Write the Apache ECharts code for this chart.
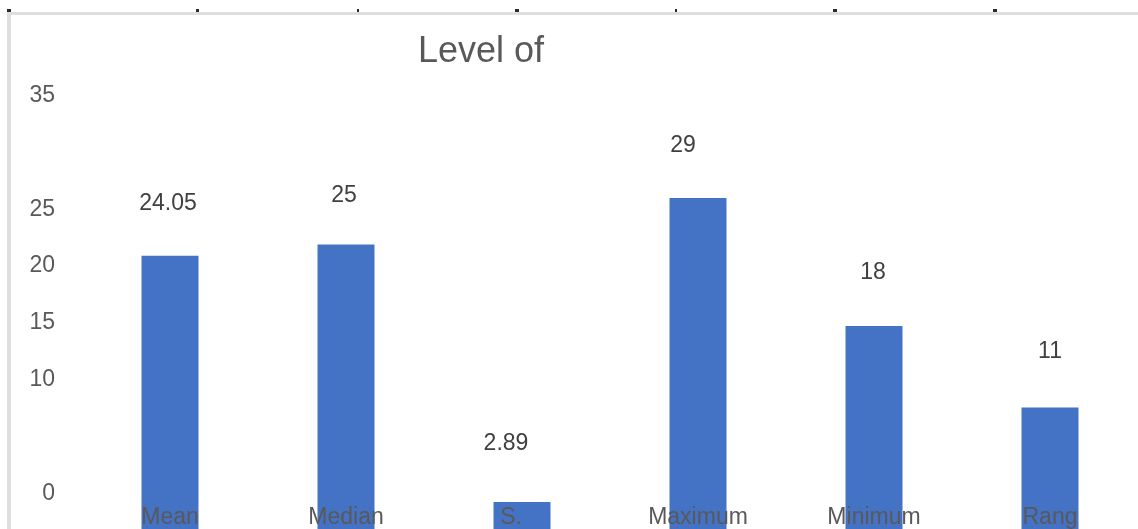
<!DOCTYPE html>
<html>
<head>
<meta charset="utf-8">
<title>Level of</title>
<script src="https://cdn.jsdelivr.net/npm/echarts@6/dist/echarts.min.js"></script>
<style>
  html, body { margin: 0; padding: 0; background: #ffffff; }
  #chart { width: 1138px; height: 529px; }
</style>
</head>
<body>
<div id="chart"></div>
<script>
// Summary statistics shown as bars
const categories = ['Mean', 'Median', 'S.', 'Maximum', 'Minimum', 'Rang'];
const values = [24.05, 25, 2.89, 29, 18, 11];
// Labels printed along the left scale
const yTickLabels = [0, 10, 15, 20, 25, 35];

const FONT = '"Liberation Sans", Arial, sans-serif';

// Small per-bar nudges for the value labels, in pixels [dx, dy]
const labelNudges = [[-2, 1], [-2, 5], [-16, -5], [-15, 1], [-1, 0], [0, -2]];

const chart = echarts.init(document.getElementById('chart'), null, { renderer: 'canvas' });

// Ruler marks along the top frame edge
const rulerMarks = [
  { x: 7, w: 4 }, { x: 196, w: 3 }, { x: 357, w: 2 }, { x: 515, w: 4 },
  { x: 675, w: 2 }, { x: 833, w: 4 }, { x: 993, w: 4 }
];

const graphics = [
  { type: 'rect', shape: { x: 7, y: 12, width: 1131, height: 3 }, style: { fill: '#dedede' }, silent: true, z: 0 },
  { type: 'rect', shape: { x: 7, y: 12, width: 4, height: 517 }, style: { fill: '#dedede' }, silent: true, z: 0 }
].concat(rulerMarks.map(m => ({
  type: 'rect', shape: { x: m.x, y: 9, width: m.w, height: 3 }, style: { fill: '#2a2a2a' }, silent: true, z: 1
})));

const barData = values.map((v, i) => ({
  value: v,
  label: { offset: labelNudges[i] }
}));

chart.setOption({
  animation: false,
  backgroundColor: '#ffffff',
  title: {
    text: 'Level of',
    left: 418,
    top: 34,
    padding: 0,
    textStyle: { fontFamily: FONT, fontSize: 36, fontWeight: 'normal', color: '#595959' }
  },
  graphic: graphics,
  // The bar baseline sits just below the bottom edge, so the value axis starts slightly above zero
  grid: { left: 82, right: -2, top: 92.5, bottom: 0, containLabel: false },
  xAxis: {
    type: 'category',
    data: categories,
    z: 10,
    axisLine: { show: false },
    axisTick: { show: false },
    axisLabel: {
      margin: -23,
      interval: 0,
      fontFamily: FONT,
      fontSize: 23,
      color: '#595959',
      formatter: v => (v === 'S.' ? '{s|' + v + '}' : v),
      rich: { s: { fontFamily: FONT, fontSize: 23, color: '#595959', padding: [0, 22, 0, 0] } }
    }
  },
  yAxis: [
    {
      type: 'value',
      min: 0.567,
      max: 38.07,
      show: false,
      splitLine: { show: false }
    },
    {
      type: 'value',
      position: 'left',
      min: -3.12,
      max: 35.26,
      axisLine: { show: false },
      axisTick: { show: false },
      splitLine: { show: false },
      axisLabel: {
        customValues: yTickLabels,
        margin: 27,
        fontFamily: FONT,
        fontSize: 23,
        color: '#595959'
      }
    }
  ],
  series: [{
    type: 'bar',
    yAxisIndex: 0,
    data: barData,
    barWidth: 57,
    itemStyle: { color: '#4472C4' },
    label: {
      show: true,
      position: 'top',
      distance: 42,
      fontFamily: FONT,
      fontSize: 23,
      color: '#404040',
      formatter: p => String(p.value)
    }
  }]
});
</script>
</body>
</html>
